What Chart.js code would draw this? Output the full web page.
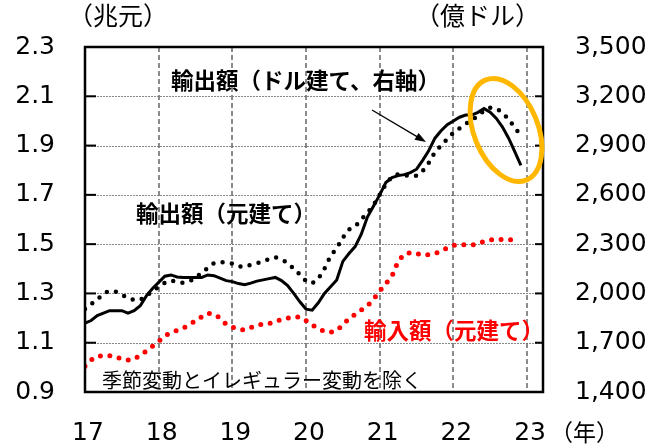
<!DOCTYPE html>
<html>
<head>
<meta charset="utf-8">
<script src="https://cdn.jsdelivr.net/npm/chart.js@4.4.0/dist/chart.umd.min.js"></script>
<style>
  html, body { margin: 0; padding: 0; background: #fff; }
  #c { display: block; }
</style>
</head>
<body>
<canvas id="c" width="650" height="445"></canvas>
<script>
// 月次データ (0 = 2017年1月)
const yearLabels = ['17', '18', '19', '20', '21', '22', '23'];
const yearTicks = [0, 12, 24, 36, 48, 60, 72];
const leftTicks = [0.9, 1.1, 1.3, 1.5, 1.7, 1.9, 2.1, 2.3];
const rightTicks = [1400, 1700, 2000, 2300, 2600, 2900, 3200, 3500];

// 輸出額(元建て, 兆元)
const exportCny = [
  1.18, 1.19, 1.21, 1.22, 1.23, 1.23, 1.23, 1.22, 1.23, 1.25, 1.29, 1.32,
  1.345, 1.37, 1.375, 1.367, 1.365, 1.365, 1.365, 1.365, 1.375, 1.372, 1.362, 1.352,
  1.348, 1.34, 1.335, 1.342, 1.35, 1.355, 1.36, 1.365, 1.352, 1.332, 1.30, 1.266,
  1.236, 1.232, 1.262, 1.30, 1.327, 1.355, 1.43, 1.462, 1.49, 1.54, 1.61, 1.655,
  1.70, 1.75, 1.77, 1.778, 1.782, 1.79, 1.804, 1.84, 1.88, 1.93, 1.96, 1.985,
  2.00, 2.015, 2.024, 2.024, 2.035, 2.05, 2.035, 2.01, 1.975, 1.93, 1.875, 1.82
];
// 輸出額(ドル建て, 億ドル, 右軸)
const exportUsd = [
  1905, 1935, 1962, 2000, 2015, 2010, 1992, 1970, 1960, 1960, 1985, 2015,
  2040, 2065, 2078, 2070, 2065, 2073, 2095, 2125, 2155, 2184, 2190, 2188,
  2182, 2165, 2162, 2174, 2183, 2195, 2210, 2220, 2205, 2188, 2150, 2115,
  2075, 2062, 2090, 2150, 2228, 2275, 2340, 2390, 2407, 2450, 2490, 2537,
  2600, 2665, 2710, 2725, 2720, 2716, 2716, 2745, 2795, 2860, 2900, 2940,
  2978, 3005, 3032, 3055, 3080, 3112, 3130, 3125, 3100, 3060, 3010, 2960
];
// 輸入額(元建て, 兆元)
const importCny = [
  1.005, 1.03, 1.045, 1.048, 1.047, 1.044, 1.033, 1.03, 1.033, 1.05, 1.066, 1.086,
  1.105, 1.128, 1.14, 1.15, 1.16, 1.172, 1.19, 1.205, 1.22, 1.215, 1.20, 1.175,
  1.163, 1.155, 1.152, 1.162, 1.17, 1.176, 1.178, 1.185, 1.195, 1.20, 1.204, 1.205,
  1.19, 1.172, 1.158, 1.145, 1.142, 1.15, 1.172, 1.198, 1.215, 1.233, 1.25, 1.276,
  1.31, 1.34, 1.37, 1.43, 1.46, 1.465, 1.462, 1.455, 1.457, 1.462, 1.472, 1.485,
  1.495, 1.498, 1.498, 1.496, 1.503, 1.511, 1.517, 1.519, 1.519, 1.518, 1.517
];

const toPoints = arr => arr.map((v, i) => ({ x: i, y: v }));

const jp = '"Noto Sans CJK JP", sans-serif';

const decor = {
  id: 'decor',
  beforeDatasetsDraw(chart) {
    const { ctx, chartArea: a, scales } = chart;
    ctx.save();
    // 横の点線グリッド
    ctx.strokeStyle = '#888';
    ctx.lineWidth = 1;
    ctx.setLineDash([2, 1]);
    leftTicks.slice(1, -1).forEach(v => {
      const y = Math.round(scales.y.getPixelForValue(v)) + 0.5;
      ctx.beginPath();
      ctx.moveTo(a.left, y);
      ctx.lineTo(a.right, y);
      ctx.stroke();
    });
    // 縦の破線グリッド
    ctx.strokeStyle = '#666';
    ctx.lineWidth = 1.5;
    ctx.setLineDash([5, 3]);
    yearTicks.slice(1).forEach(v => {
      const x = Math.round(scales.x.getPixelForValue(v));
      ctx.beginPath();
      ctx.moveTo(x, a.top);
      ctx.lineTo(x, a.bottom);
      ctx.stroke();
    });
    ctx.restore();
  },
  afterDatasetsDraw(chart) {
    const { ctx, chartArea: a, scales } = chart;
    ctx.save();
    ctx.setLineDash([]);
    // 枠
    ctx.strokeStyle = '#000';
    ctx.lineWidth = 2.5;
    ctx.strokeRect(a.left, a.top, a.right - a.left, a.bottom - a.top);
    // 内向き目盛り
    ctx.lineWidth = 2;
    leftTicks.forEach(v => {
      const y = scales.y.getPixelForValue(v);
      ctx.beginPath(); ctx.moveTo(a.left, y); ctx.lineTo(a.left + 11, y); ctx.stroke();
    });
    rightTicks.forEach(v => {
      const y = scales.y1.getPixelForValue(v);
      ctx.beginPath(); ctx.moveTo(a.right, y); ctx.lineTo(a.right - 8, y); ctx.stroke();
    });

    // テキスト
    ctx.textBaseline = 'middle';
    ctx.textAlign = 'left';
    ctx.fillStyle = '#000';
    ctx.font = '25px ' + jp;
    ctx.fillText('（兆元）', 68, 15);
    ctx.fillText('（億ドル）', 415, 15);
    ctx.font = '23px ' + jp;
    ctx.fillText('（年）', 550, 432);

    ctx.font = 'bold 22.5px ' + jp;
    ctx.fillText('輸出額（ドル建て、右軸）', 171, 80);
    ctx.fillText('輸出額（元建て）', 136, 213);
    ctx.fillStyle = '#ff0000';
    ctx.fillText('輸入額（元建て）', 364, 330);

    ctx.fillStyle = '#000';
    ctx.font = '20px ' + jp;
    ctx.fillText('季節変動とイレギュラー変動を除く', 102, 380);

    // 矢印
    const x1 = 372, y1 = 110, x2 = 426, y2 = 142;
    const ang = Math.atan2(y2 - y1, x2 - x1);
    ctx.strokeStyle = '#000';
    ctx.lineWidth = 1.3;
    ctx.beginPath(); ctx.moveTo(x1, y1); ctx.lineTo(x2 - 8 * Math.cos(ang), y2 - 8 * Math.sin(ang)); ctx.stroke();
    ctx.beginPath();
    ctx.moveTo(x2, y2);
    ctx.lineTo(x2 - 11 * Math.cos(ang) + 4 * Math.sin(ang), y2 - 11 * Math.sin(ang) - 4 * Math.cos(ang));
    ctx.lineTo(x2 - 11 * Math.cos(ang) - 4 * Math.sin(ang), y2 - 11 * Math.sin(ang) + 4 * Math.cos(ang));
    ctx.closePath();
    ctx.fill();

    // 楕円
    ctx.strokeStyle = '#FFB700';
    ctx.lineWidth = 5;
    ctx.beginPath();
    ctx.ellipse(506, 130, 32, 54, -22 * Math.PI / 180, 0, Math.PI * 2);
    ctx.stroke();
    ctx.restore();
  }
};

const ctx = document.getElementById('c').getContext('2d');
new Chart(ctx, {
  type: 'line',
  data: {
    datasets: [
      {
        label: '輸出額(元建て)',
        data: toPoints(exportCny),
        yAxisID: 'y',
        borderColor: '#000',
        borderWidth: 3,
        pointRadius: 0,
        tension: 0
      },
      {
        label: '輸出額(ドル建て、右軸)',
        data: toPoints(exportUsd),
        yAxisID: 'y1',
        borderColor: '#000',
        borderWidth: 4.5,
        borderDash: [0, 9.3],
        borderCapStyle: 'round',
        pointRadius: 0,
        tension: 0
      },
      {
        label: '輸入額(元建て)',
        data: toPoints(importCny),
        yAxisID: 'y',
        borderColor: '#ff0000',
        borderWidth: 5,
        borderDash: [0, 9.5],
        borderCapStyle: 'round',
        pointRadius: 0,
        tension: 0
      }
    ]
  },
  options: {
    responsive: false,
    animation: false,
    devicePixelRatio: 1,
    layout: { padding: { top: 43, left: 0, right: 0, bottom: 0 } },
    plugins: { legend: { display: false }, tooltip: { enabled: false } },
    scales: {
      x: {
        type: 'linear',
        min: 0,
        max: 74.6,
        grid: { display: false, drawTicks: false },
        border: { display: false },
        afterFit: s => { s.height = 53; },
        afterBuildTicks: s => { s.ticks = yearTicks.map(v => ({ value: v })); },
        ticks: {
          padding: 26,
          labelOffset: 3,
          maxRotation: 0,
          autoSkip: false,
          color: '#000',
          font: { family: '"DejaVu Sans"', size: 25 },
          callback: (v) => yearLabels[yearTicks.indexOf(v)]
        }
      },
      y: {
        position: 'left',
        min: 0.9,
        max: 2.3,
        grid: { display: false, drawTicks: false },
        border: { display: false },
        afterFit: s => { s.width = 85; },
        afterBuildTicks: s => { s.ticks = leftTicks.map(v => ({ value: v })); },
        ticks: {
          padding: 30,
          color: '#000',
          font: { family: '"DejaVu Sans"', size: 25 },
          callback: v => v.toFixed(1)
        }
      },
      y1: {
        position: 'right',
        min: 1400,
        max: 3500,
        grid: { display: false, drawTicks: false },
        border: { display: false },
        afterFit: s => { s.width = 107; },
        afterBuildTicks: s => { s.ticks = rightTicks.map(v => ({ value: v })); },
        ticks: {
          padding: 32,
          color: '#000',
          font: { family: '"DejaVu Sans"', size: 25 },
          callback: v => v.toLocaleString('en-US')
        }
      }
    }
  },
  plugins: [decor]
});
</script>
</body>
</html>
